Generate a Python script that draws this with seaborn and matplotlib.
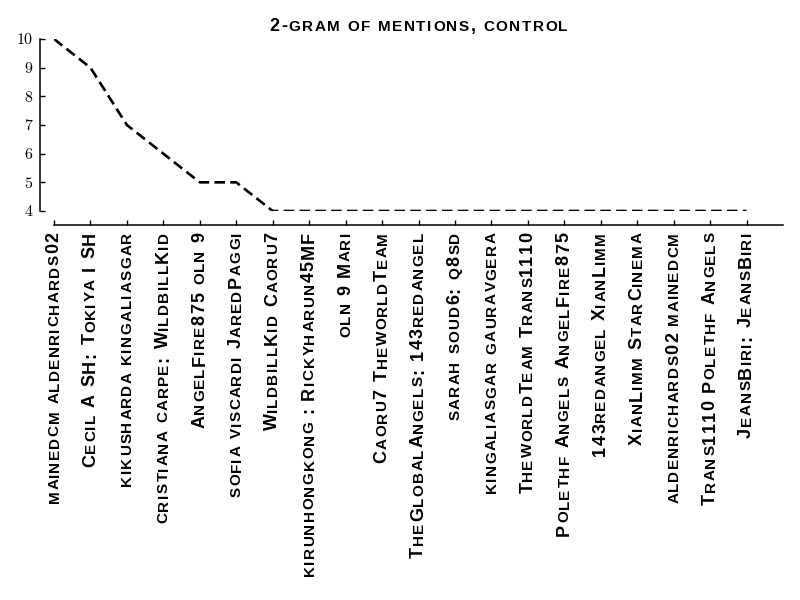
import numpy as np
import pandas as pd
import matplotlib
matplotlib.use("Agg")
import matplotlib.pyplot as plt
import seaborn as sns
from matplotlib.font_manager import FontProperties
from matplotlib.transforms import Affine2D

# ---------------- data ----------------
labels = [
    "mainedcm aldenrichards02",
    "Cecil A SH: Tokiya I SH",
    "kikusharda kingaliasgar",
    "cristiana carpe: WildbillKid",
    "AngelFire875 oln 9",
    "sofia viscardi JaredPaggi",
    "WildbillKid Caoru7",
    "kirunhongkong : Rickyharun45MF",
    "oln 9 Mari",
    "Caoru7 TheworldTeam",
    "TheGlobalAngels: 143redangel",
    "sarah soud6: q8sd",
    "kingaliasgar gauravgera",
    "TheworldTeam Trans1110",
    "Polethf Angels AngelFire875",
    "143redangel XianLimm",
    "XianLimm StarCinema",
    "aldenrichards02 mainedcm",
    "Trans1110 Polethf Angels",
    "JeansBiri: JeansBiri",
]
counts = [10, 9, 7, 6, 5, 5, 4, 4, 4, 4, 4, 4, 4, 4, 4, 4, 4, 4, 4, 4]
title = "2-gram of mentions, control"
yticks = [4, 5, 6, 7, 8, 9, 10]

# ---------------- style ----------------
sns.set_theme(style="ticks")
plt.rcParams["font.family"] = ["Liberation Sans", "DejaVu Sans"]
plt.rcParams["axes.edgecolor"] = "black"
plt.rcParams["xtick.color"] = "black"
plt.rcParams["ytick.color"] = "black"

W, H, DPI = 800, 600, 100
fig, ax = plt.subplots(figsize=(W / DPI, H / DPI), dpi=DPI)
fig.patch.set_facecolor("white")
fig.subplots_adjust(left=54 / W, right=783 / W, top=1 - 39 / H, bottom=1 - 211 / H)

df = pd.DataFrame({"rank": np.arange(len(counts)), "count": counts, "label": labels})
sns.lineplot(data=df, x="rank", y="count", color="black", linewidth=1.9,
             linestyle=(0, (4, 2)), ax=ax)

ax.set_xlim(0, len(labels))
ax.set_ylim(min(yticks), max(yticks))
ax.set_xticks(df["rank"])
ax.set_yticks(yticks)
ax.set_xlabel("")
ax.set_ylabel("")
sns.despine(ax=ax, offset=10)
for sp in ax.spines.values():
    sp.set_linewidth(1.1)
    sp.set_color("black")
ax.tick_params(direction="in", length=3.3, width=1.0)
ax.tick_params(axis="x", labelbottom=False)
ax.tick_params(axis="y", pad=5.5)
for t in ax.get_yticklabels():
    t.set_fontfamily("cmr10")
    t.set_fontsize(11.5)

# ---------------- small-caps text helper ----------------
renderer = fig.canvas.get_renderer()
BIG, SMALL = 13.0, 11.0
big_fp = FontProperties(family="Liberation Sans", weight="bold", size=BIG)
small_fp = FontProperties(family="Liberation Sans", weight="bold", size=SMALL)
_cache = {}


def advance(ch, fp):
    key = (ch, fp.get_size())
    if key not in _cache:
        w1 = renderer.get_text_width_height_descent("|" + ch + "|", fp, ismath=False)[0]
        w0 = renderer.get_text_width_height_descent("||", fp, ismath=False)[0]
        _cache[key] = w1 - w0
    return _cache[key]


def glyphs(s):
    out = []
    for ch in s:
        if ch.islower():
            out.append((ch.upper(), small_fp))
        else:
            out.append((ch, big_fp))
    return out


TRACK_LAB = 1.3
TRACK_TITLE = 1.5

# rotated tick labels
for i, lab in enumerate(df["label"]):
    g = glyphs(lab)
    advs = [advance(c, fp) + TRACK_LAB for c, fp in g]
    total = sum(advs) - TRACK_LAB
    cum = 0.0
    for (c, fp), a in zip(g, advs):
        if c != " ":
            tr = ax.get_xaxis_transform() + Affine2D().translate(4.5, -21 - total + cum)
            ax.text(i, 0, c, transform=tr, rotation=90, rotation_mode="anchor",
                    ha="left", va="baseline", fontproperties=fp, color="black",
                    clip_on=False)
        cum += a

# title
g = glyphs(title)
advs = [advance(c, fp) + TRACK_TITLE for c, fp in g]
total = sum(advs) - TRACK_TITLE
cum = 0.0
for (c, fp), a in zip(g, advs):
    if c != " ":
        tr = ax.transAxes + Affine2D().translate(-total / 2 + cum, 8)
        ax.text(0.5, 1.0, c, transform=tr, ha="left", va="baseline",
                fontproperties=fp, color="black", clip_on=False)
    cum += a

fig.savefig("out.png", dpi=DPI, facecolor="white")
